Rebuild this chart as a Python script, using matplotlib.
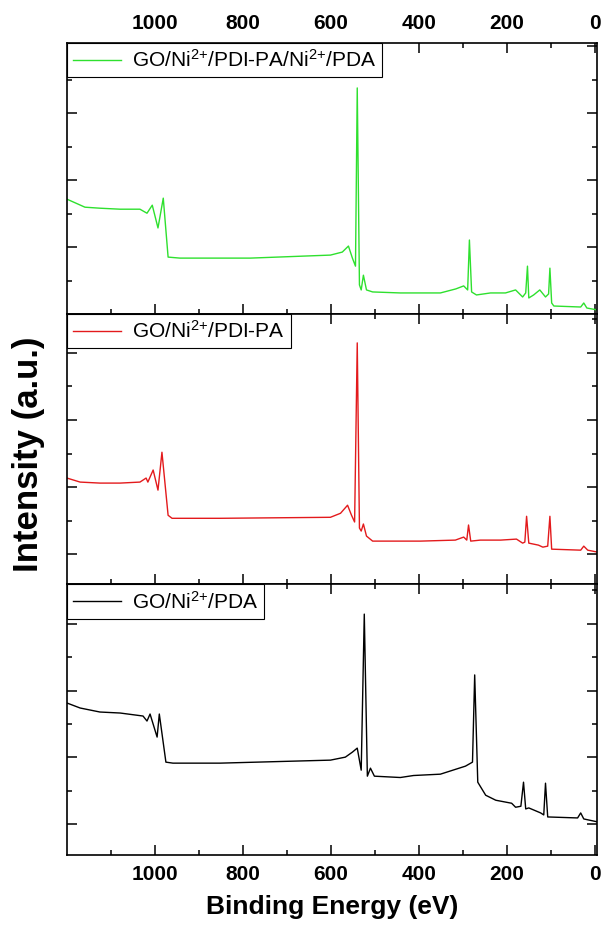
import numpy as np
import matplotlib
matplotlib.use('Agg')
import matplotlib.pyplot as plt
from matplotlib.ticker import MultipleLocator, FixedLocator, NullFormatter

plt.rcParams['font.family'] = ['Liberation Sans', 'DejaVu Sans']
plt.rcParams['mathtext.default'] = 'regular'

# XPS survey spectra, binding energy (eV) vs intensity (a.u.)
be_green = [1200, 1159, 1125, 1079, 1034, 1018, 1006, 993, 981, 970, 943, 783, 601, 574, 560, 551, 544,
            540, 535, 531, 526, 519, 505, 442, 351, 316, 298, 289, 285, 280, 269, 237, 203, 180, 164, 157,
            153, 150, 139, 125, 112, 105, 102, 98, 93, 32, 25, 18, -7]
int_green = [3.43, 3.19, 3.16, 3.13, 3.13, 3.01, 3.25, 2.57, 3.46, 1.70, 1.67, 1.67, 1.76, 1.85, 2.03, 1.67, 1.43,
             6.75, 0.87, 0.72, 1.16, 0.72, 0.66, 0.63, 0.63, 0.75, 0.84, 0.72, 2.21, 0.66, 0.57, 0.63, 0.63, 0.72, 0.51, 0.63,
             1.43, 0.48, 0.57, 0.72, 0.51, 0.60, 1.37, 0.33, 0.24, 0.21, 0.33, 0.18, 0.12]

be_red = [1200, 1170, 1125, 1079, 1034, 1020, 1016, 1004, 993, 984, 970, 961, 852, 601, 578, 562, 553, 546,
          540, 535, 531, 526, 519, 505, 396, 317, 298, 291, 287, 282, 260, 214, 178, 164, 159,
          155, 150, 128, 118, 107, 102, 98, 32, 25, 16, -7]
int_red = [4.27, 4.15, 4.12, 4.12, 4.15, 4.27, 4.15, 4.51, 3.91, 5.04, 3.16, 3.07, 3.07, 3.10, 3.22, 3.46, 3.16, 2.96,
           8.30, 2.78, 2.69, 2.90, 2.54, 2.39, 2.39, 2.42, 2.51, 2.42, 2.87, 2.39, 2.42, 2.42, 2.45, 2.33, 2.36,
           3.13, 2.33, 2.27, 2.21, 2.24, 3.13, 2.15, 2.12, 2.24, 2.12, 2.06]

be_black = [1200, 1170, 1125, 1079, 1027, 1018, 1011, 995, 990, 975, 959, 852, 601, 567, 551, 540, 531,
            524, 517, 510, 501, 442, 412, 351, 294, 278, 273, 266, 248, 225, 189, 180, 168,
            162, 157, 150, 123, 116, 112, 107, 39, 32, 25, -7]
int_black = [5.63, 5.48, 5.36, 5.33, 5.24, 5.09, 5.30, 4.61, 5.30, 3.86, 3.83, 3.83, 3.92, 4.01, 4.16, 4.28, 3.62,
             8.29, 3.44, 3.68, 3.44, 3.40, 3.46, 3.50, 3.74, 3.86, 6.47, 3.26, 2.87, 2.72, 2.63, 2.51, 2.54,
             3.26, 2.46, 2.49, 2.34, 2.28, 3.23, 2.22, 2.19, 2.34, 2.16, 2.07]

labels = ['GO/Ni$^{2{+}}$/PDI-PA/Ni$^{2{+}}$/PDA', 'GO/Ni$^{2{+}}$/PDI-PA', 'GO/Ni$^{2{+}}$/PDA']
colors = ['#2ee02e', '#e31a1c', '#000000']
ylims = [(0.01, 8.09), (1.10, 9.17), (1.08, 9.18)]

fig = plt.figure(figsize=(6.03, 9.36), dpi=100)
gs = fig.add_gridspec(3, 1, left=0.111, right=0.990, top=0.954, bottom=0.0865, hspace=0)
axes = [fig.add_subplot(gs[i]) for i in range(3)]

data = [(be_green, int_green), (be_red, int_red), (be_black, int_black)]
for i, ax in enumerate(axes):
    x, y = data[i]
    ax.plot(x, y, color=colors[i], lw=1.0, label=labels[i])
    ax.set_xlim(1200, -5)
    ax.set_ylim(*ylims[i])
    ax.xaxis.set_major_locator(FixedLocator([0, 200, 400, 600, 800, 1000]))
    ax.xaxis.set_minor_locator(FixedLocator([100, 300, 500, 700, 900, 1100]))
    ax.yaxis.set_major_locator(MultipleLocator(2))
    ax.yaxis.set_minor_locator(MultipleLocator(1))
    ax.yaxis.set_major_formatter(NullFormatter())
    ax.tick_params(which='both', direction='in', top=True, right=True, width=1.1,
                   labelbottom=(i == 2), labeltop=(i == 0), labelleft=False,
                   labelsize=15, pad=7)
    ax.tick_params(which='major', length=7)
    ax.tick_params(which='minor', length=3.5)
    for lab in ax.get_xticklabels():
        lab.set_fontweight('bold')
    for s in ax.spines.values():
        s.set_linewidth(1.2)
    leg = ax.legend(loc='upper left', fontsize=15, frameon=True, fancybox=False,
                    edgecolor='black', framealpha=1, borderaxespad=0, borderpad=0.3,
                    handlelength=2.3, handletextpad=0.5)
    leg.get_frame().set_linewidth(0.8)

axes[2].set_xlabel('Binding Energy (eV)', fontsize=19, fontweight='bold', labelpad=8)
fig.text(0.048, 0.515, 'Intensity (a.u.)', rotation=90, ha='center', va='center',
         fontsize=25, fontweight='bold')

fig.savefig('out.png', dpi=100)
